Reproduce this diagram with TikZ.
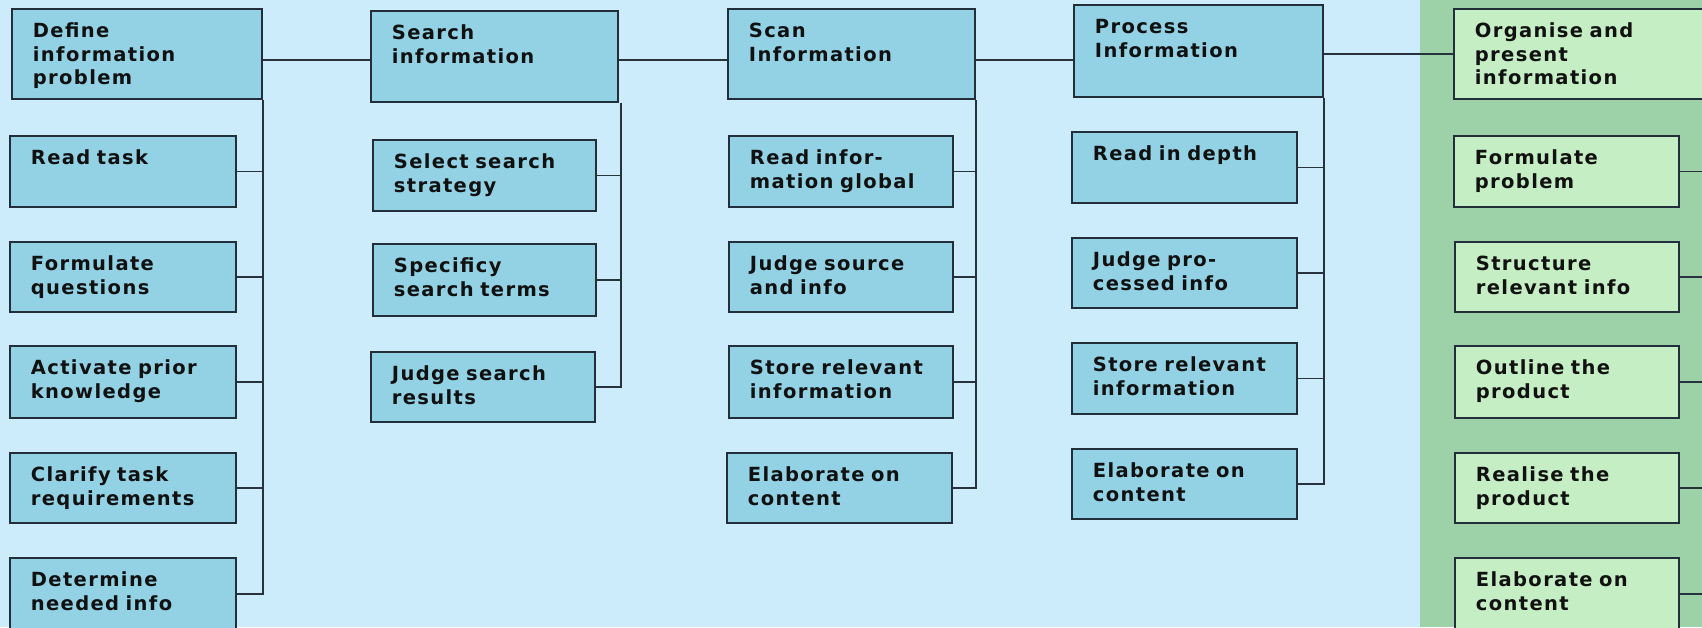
\documentclass[tikz,border=0pt]{standalone}
\usepackage{fontspec}
\setmainfont{DejaVu Sans}[LetterSpace=7,WordSpace=1.4]
\usetikzlibrary{calc}
\definecolor{bgblue}{RGB}{204,235,251}
\definecolor{bggreen}{RGB}{157,210,169}
\definecolor{boxblue}{RGB}{146,210,228}
\definecolor{boxgreen}{RGB}{198,238,196}
\definecolor{boxline}{RGB}{34,46,58}
\definecolor{connline}{RGB}{40,50,60}
\definecolor{txt}{RGB}{17,17,17}
\tikzset{
  box/.style 2 args={draw=boxline, line width=1.8pt, anchor=north west,
    inner xsep=21pt, inner ysep=0pt, align=left, text=txt,
    font=\bfseries\fontsize{19.5}{23.5}\selectfont,
    text width=#1pt-42pt, text height=29pt, text depth=#2pt-29pt},
  bluebox/.style={fill=boxblue},
  greenbox/.style={fill=boxgreen},
  conn/.style={draw=connline, line width=1.5pt},
}
\begin{document}
\begin{tikzpicture}[x=1pt,y=-1pt]
\useasboundingbox (0,0) rectangle (1702,627);
\clip (0,0) rectangle (1702,627);
\fill[bgblue] (0,0) rectangle (1702,627);
\fill[bggreen] (1420,0) rectangle (1702,627);

% column 1
\node[box={250}{90},bluebox] (define) at (11,8) {Define\\information\\problem};
\node[box={226}{71},bluebox] (c1a) at (9,135) {Read~task};
\node[box={226}{70},bluebox] (c1b) at (9,241) {Formulate\\questions};
\node[box={226}{72},bluebox] (c1c) at (9,345) {Activate~prior\\knowledge};
\node[box={226}{70},bluebox] (c1d) at (9,452) {Clarify~task\\requirements};
\node[box={226}{72},bluebox] (c1e) at (9,557) {Determine\\needed~info};

% column 2
\node[box={247}{91},bluebox] (search) at (370,10) {Search\\information};
\node[box={223}{71},bluebox] (c2a) at (372,139) {Select~search\\strategy};
\node[box={223}{72},bluebox] (c2b) at (372,243) {Specificy\\search~terms};
\node[box={224}{70},bluebox] (c2c) at (370,351) {Judge~search\\results};

% column 3
\node[box={247}{90},bluebox] (scan) at (727,8) {Scan\\Information};
\node[box={224}{71},bluebox] (c3a) at (728,135) {Read~infor-\\mation~global};
\node[box={224}{70},bluebox] (c3b) at (728,241) {Judge~source\\and~info};
\node[box={224}{72},bluebox] (c3c) at (728,345) {Store~relevant\\information};
\node[box={225}{70},bluebox] (c3d) at (726,452) {Elaborate~on\\content};

% column 4
\node[box={249}{92},bluebox] (process) at (1073,4) {Process\\Information};
\node[box={225}{71},bluebox] (c4a) at (1071,131) {Read~in~depth};
\node[box={225}{70},bluebox] (c4b) at (1071,237) {Judge~pro-\\cessed~info};
\node[box={225}{71},bluebox] (c4c) at (1071,342) {Store~relevant\\information};
\node[box={225}{70},bluebox] (c4d) at (1071,448) {Elaborate~on\\content};

% column 5
\node[box={250}{90},greenbox] (organise) at (1453,8) {Organise~and\\present\\information};
\node[box={225}{71},greenbox] (c5a) at (1453,135) {Formulate\\problem};
\node[box={224}{70},greenbox] (c5b) at (1454,241) {Structure\\relevant~info};
\node[box={224}{72},greenbox] (c5c) at (1454,345) {Outline~the\\product};
\node[box={224}{70},greenbox] (c5d) at (1454,452) {Realise~the\\product};
\node[box={224}{72},greenbox] (c5e) at (1454,557) {Elaborate~on\\content};

% main line
\draw[conn] ([yshift=-6pt]define.east) -- ([yshift=-6pt]define.east -| search.west);
\draw[conn] ([yshift=-3.5pt]search.east) -- ([yshift=-3.5pt]search.east -| scan.west);
\draw[conn] ([yshift=-6pt]scan.east) -- ([yshift=-6pt]scan.east -| process.west);
\draw[conn] ([yshift=-3pt]process.east) -- ([yshift=-3pt]process.east -| organise.west);

% column 1 branches
\draw[conn] (define.south east) -- (define.south east |- c1e.east) -- (c1e.east);
\foreach \c in {c1a,c1b,c1c,c1d} \draw[conn] (\c.east) -- (\c.east -| define.east);
% column 2 branches
\coordinate (s2) at ([xshift=2pt]search.south east);
\draw[conn] (s2) -- (s2 |- c2c.east) -- (c2c.east);
\foreach \c in {c2a,c2b} \draw[conn] (\c.east) -- (\c.east -| s2);
% column 3 branches
\draw[conn] (scan.south east) -- (scan.south east |- c3d.east) -- (c3d.east);
\foreach \c in {c3a,c3b,c3c} \draw[conn] (\c.east) -- (\c.east -| scan.east);
% column 4 branches
\draw[conn] (process.south east) -- (process.south east |- c4d.east) -- (c4d.east);
\foreach \c in {c4a,c4b,c4c} \draw[conn] (\c.east) -- (\c.east -| process.east);
% column 5 branches
\draw[conn] (organise.south east) -- (organise.south east |- c5e.east) -- (c5e.east);
\foreach \c in {c5a,c5b,c5c,c5d} \draw[conn] (\c.east) -- (\c.east -| organise.east);
\end{tikzpicture}
\end{document}
